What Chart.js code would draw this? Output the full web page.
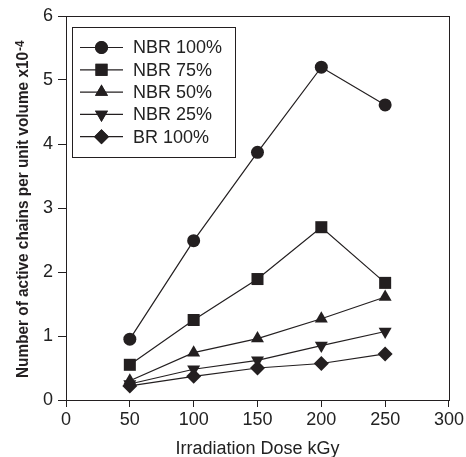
<!DOCTYPE html>
<html>
<head>
<meta charset="utf-8">
<script src="https://cdn.jsdelivr.net/npm/chart.js@4/dist/chart.umd.min.js"></script>
<style>
  html, body { margin: 0; padding: 0; background: #fff; }
  #wrap { width: 466px; height: 457px; }
</style>
</head>
<body>
<div id="wrap"><canvas id="chartCanvas" width="466" height="457"></canvas></div>
<script>
// doses (kGy)
const doses = [50, 100, 150, 200, 250];

// active chains per unit volume (x10^-4)
const nbr100 = [0.95, 2.49, 3.87, 5.20, 4.61];
const nbr75 = [0.55, 1.25, 1.89, 2.70, 1.83];
const nbr50 = [0.30, 0.74, 0.96, 1.27, 1.61];
const nbr25 = [0.25, 0.48, 0.62, 0.85, 1.07];
const br100 = [0.22, 0.37, 0.50, 0.57, 0.72];

const seriesNames = ['NBR 100%', 'NBR 75%', 'NBR 50%', 'NBR 25%', 'BR 100%'];
const xTicks = [0, 50, 100, 150, 200, 250, 300];
const yTicks = [0, 1, 2, 3, 4, 5, 6];

const ink = '#231f20';
const fontFamily = '"Liberation Sans", Arial, sans-serif';

// marker for each series
const markers = [
    { style: 'circle', radius: 6.5, rotation: 0 },
    { style: 'rect', radius: 8.5, rotation: 0 },
    { style: 'triangle', radius: 7.5, rotation: 0 },
    { style: 'triangle', radius: 7.5, rotation: 180 },
    { style: 'rectRot', radius: 7.5, rotation: 0 }
];

function toPoints(values) {
    return doses.map((d, i) => ({ x: d, y: values[i] }));
}

const allSeries = [nbr100, nbr75, nbr50, nbr25, br100];

const datasets = allSeries.map((vals, i) => ({
    label: seriesNames[i],
    data: toPoints(vals),
    borderColor: ink,
    backgroundColor: ink,
    borderWidth: 1.2,
    pointStyle: markers[i].style,
    pointRadius: markers[i].radius,
    pointRotation: markers[i].rotation,
    pointBorderWidth: 0,
    pointBackgroundColor: ink,
    showLine: true,
    tension: 0
}));

// frame, y title with superscript and legend box
const extras = {
    id: 'extras',
    afterDraw(chart) {
        const ctx = chart.ctx;
        const a = chart.chartArea;
        ctx.save();
        ctx.strokeStyle = ink;
        ctx.lineWidth = 1;
        ctx.strokeRect(Math.round(a.left) + 0.5, Math.round(a.top) + 0.5,
            Math.round(a.right - a.left), Math.round(a.bottom - a.top));

        // y axis title (narrow bold face, squeezed to the reference length)
        const main = 'Number of active chains per unit volume x10';
        const sup = '-4';
        ctx.fillStyle = ink;
        ctx.font = 'bold 17px ' + fontFamily;
        const wMain = ctx.measureText(main).width;
        const squeeze = 326 / wMain;
        ctx.translate(27.5, 378);
        ctx.rotate(-Math.PI / 2);
        ctx.textBaseline = 'alphabetic';
        ctx.textAlign = 'left';
        ctx.save();
        ctx.scale(squeeze, 1);
        ctx.fillText(main, 0, 0);
        ctx.restore();
        ctx.font = 'bold 13px ' + fontFamily;
        ctx.save();
        ctx.translate(326 + 1, -4);
        ctx.scale(0.9, 1);
        ctx.fillText(sup, 0, 0);
        ctx.restore();
        ctx.restore();

        // legend
        ctx.save();
        ctx.strokeStyle = ink;
        ctx.lineWidth = 1;
        ctx.strokeRect(72.5, 27.5, 163, 130);
        ctx.font = '18px ' + fontFamily;
        ctx.textBaseline = 'middle';
        ctx.textAlign = 'left';
        datasets.forEach((ds, i) => {
            const y = 47.5 + i * 22.3;
            ctx.strokeStyle = ink;
            ctx.lineWidth = 1.2;
            ctx.beginPath();
            ctx.moveTo(80, y);
            ctx.lineTo(123, y);
            ctx.stroke();
            ctx.fillStyle = ink;
            Chart.helpers.drawPoint(ctx, {
                pointStyle: ds.pointStyle,
                radius: ds.pointRadius,
                rotation: ds.pointRotation,
                borderWidth: 0
            }, 101.5, y);
            ctx.fill();
            ctx.fillStyle = '#222';
            ctx.fillText(ds.label, 133, y + 1);
        });
        ctx.restore();
    }
};

const ctx = document.getElementById('chartCanvas').getContext('2d');

new Chart(ctx, {
    type: 'scatter',
    data: { datasets: datasets },
    options: {
        responsive: false,
        animation: false,
        layout: { padding: { top: 16, right: 17, left: 0, bottom: 0 } },
        plugins: {
            legend: { display: false },
            tooltip: { enabled: false }
        },
        scales: {
            x: {
                type: 'linear',
                min: 0,
                max: 300,
                afterBuildTicks: scale => { scale.ticks = xTicks.map(v => ({ value: v })); },
                afterFit: scale => { scale.height = 57; },
                grid: { display: true, drawOnChartArea: false, drawTicks: true, tickLength: 7, color: ink, tickWidth: 1 },
                border: { display: true, color: ink, width: 1 },
                ticks: { color: '#222', font: { family: fontFamily, size: 18 }, padding: 2, maxRotation: 0 },
                title: {
                    display: true,
                    text: 'Irradiation Dose kGy',
                    color: '#222',
                    font: { family: fontFamily, size: 18 },
                    padding: { top: 0, bottom: -3 }
                }
            },
            y: {
                type: 'linear',
                min: 0,
                max: 6,
                afterBuildTicks: scale => { scale.ticks = yTicks.map(v => ({ value: v })); },
                afterFit: scale => { scale.width = 66; },
                grid: { display: true, drawOnChartArea: false, drawTicks: true, tickLength: 8, color: ink, tickWidth: 1 },
                border: { display: true, color: ink, width: 1 },
                ticks: { color: '#222', font: { family: fontFamily, size: 18 }, padding: 5 }
            }
        }
    },
    plugins: [extras]
});
</script>
</body>
</html>
